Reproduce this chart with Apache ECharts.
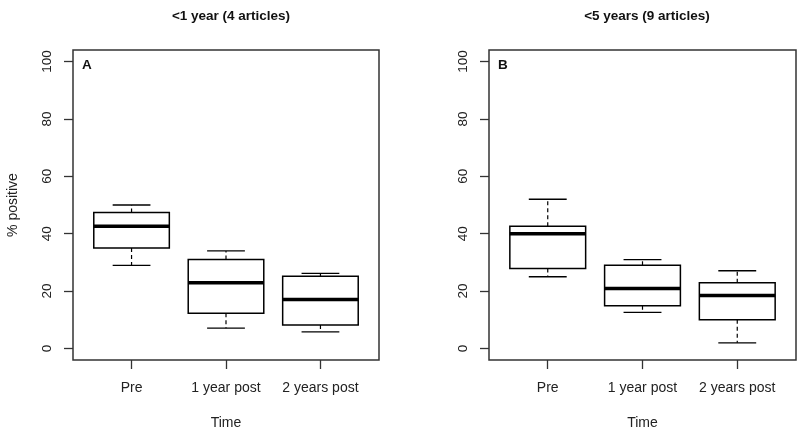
<!DOCTYPE html>
<html>
<head>
<meta charset="utf-8">
<script src="https://cdn.jsdelivr.net/npm/echarts@6/dist/echarts.min.js"></script>
<style>html,body{margin:0;padding:0;background:#fff}#c{width:800px;height:430px}</style>
</head>
<body>
<div id="c"></div>
<script>
const categories = ['Pre', '1 year post', '2 years post'];
const yTicks = [0, 20, 40, 60, 80, 100];
const titleA = '<1 year (4 articles)';
const titleB = '<5 years (9 articles)';
// Panel A (<1 year)
const aMin = [29, 7.1, 5.8];
const aQ1 = [35, 12.3, 8.2];
const aMed = [42.6, 22.9, 17.1];
const aQ3 = [47.4, 31, 25.2];
const aMax = [50, 34, 26.2];
// Panel B (<5 years)
const bMin = [25, 12.6, 2];
const bQ1 = [27.9, 14.9, 10];
const bMed = [40, 20.9, 18.5];
const bQ3 = [42.6, 29, 22.9];
const bMax = [52, 31, 27.1];

const FONT = '"Liberation Sans", Arial, sans-serif';
function rows(mn, q1, md, q3, mx) {
  return categories.map((c, i) => [i + 1, mn[i], q1[i], md[i], q3[i], mx[i]]);
}
function renderItem(params, api) {
  const x = api.value(0);
  const lo = api.coord([x, api.value(1)]);
  const q1 = api.coord([x, api.value(2)]);
  const md = api.coord([x, api.value(3)]);
  const q3 = api.coord([x, api.value(4)]);
  const hi = api.coord([x, api.value(5)]);
  const bw = api.size([0.8, 0])[0];
  const cw = api.size([0.4, 0])[0];
  const cx = lo[0];
  const solid = {stroke: '#000', lineWidth: 1.3};
  const dash = {stroke: '#000', lineWidth: 1.2, lineDash: [4, 3]};
  return {type: 'group', children: [
    {type: 'line', shape: {x1: cx, y1: q3[1], x2: cx, y2: hi[1]}, style: dash},
    {type: 'line', shape: {x1: cx, y1: q1[1], x2: cx, y2: lo[1]}, style: dash},
    {type: 'line', shape: {x1: cx - cw / 2, y1: hi[1], x2: cx + cw / 2, y2: hi[1]}, style: solid},
    {type: 'line', shape: {x1: cx - cw / 2, y1: lo[1], x2: cx + cw / 2, y2: lo[1]}, style: solid},
    {type: 'rect', shape: {x: cx - bw / 2, y: q3[1], width: bw, height: q1[1] - q3[1]},
      style: {fill: '#fff', stroke: '#000', lineWidth: 1.5}},
    {type: 'line', shape: {x1: cx - bw / 2, y1: md[1], x2: cx + bw / 2, y2: md[1]},
      style: {stroke: '#000', lineWidth: 3.5}}
  ]};
}
function xAxis(gi) {
  return {
    type: 'value', gridIndex: gi, min: 0.38, max: 3.62,
    name: 'Time', nameLocation: 'middle', nameGap: 56,
    nameTextStyle: {fontFamily: FONT, fontSize: 14, color: '#222'},
    axisLine: {show: false, onZero: false},
    axisTick: {show: true, length: 9, customValues: [1, 2, 3], lineStyle: {color: '#333', width: 1.3}},
    axisLabel: {customValues: [1, 2, 3], formatter: v => categories[Math.round(v) - 1] || '',
      fontFamily: FONT, fontSize: 14, color: '#222', margin: 21},
    splitLine: {show: false}
  };
}
function yAxis(gi, name) {
  return {
    type: 'value', gridIndex: gi, min: -4, max: 104,
    name: name, nameLocation: 'middle', nameGap: 53, nameRotate: 90,
    nameTextStyle: {fontFamily: FONT, fontSize: 14, color: '#222'},
    axisLine: {show: false, onZero: false},
    axisTick: {show: true, length: 9, customValues: yTicks, lineStyle: {color: '#333', width: 1.3}},
    axisLabel: {customValues: yTicks, rotate: 90, fontFamily: FONT, fontSize: 13.5, color: '#222', margin: 19},
    splitLine: {show: false}
  };
}
const chart = echarts.init(document.getElementById('c'), null, {renderer: 'canvas'});
chart.setOption({
  animation: false,
  backgroundColor: '#fff',
  title: [
    {text: titleA, left: 226, top: 4, textAlign: 'center',
      textStyle: {fontFamily: FONT, fontSize: 13.5, fontWeight: 'bold', color: '#111'}},
    {text: titleB, left: 642, top: 4, textAlign: 'center',
      textStyle: {fontFamily: FONT, fontSize: 13.5, fontWeight: 'bold', color: '#111'}},
    {text: 'A', left: 77, top: 53, textStyle: {fontFamily: FONT, fontSize: 13.5, fontWeight: 'bold', color: '#111'}},
    {text: 'B', left: 493, top: 53, textStyle: {fontFamily: FONT, fontSize: 13.5, fontWeight: 'bold', color: '#111'}}
  ],
  grid: [
    {left: 73, right: 421, top: 50, bottom: 70, show: true, borderColor: '#333', borderWidth: 1.5,
      backgroundColor: 'transparent', containLabel: false, outerBoundsMode: 'none'},
    {left: 489, right: 4, top: 50, bottom: 70, show: true, borderColor: '#333', borderWidth: 1.5,
      backgroundColor: 'transparent', containLabel: false, outerBoundsMode: 'none'}
  ],
  xAxis: [xAxis(0), xAxis(1)],
  yAxis: [yAxis(0, '% positive'), yAxis(1, '')],
  series: [
    {type: 'custom', xAxisIndex: 0, yAxisIndex: 0, renderItem: renderItem,
      encode: {x: 0, y: [1, 2, 3, 4, 5]}, data: rows(aMin, aQ1, aMed, aQ3, aMax)},
    {type: 'custom', xAxisIndex: 1, yAxisIndex: 1, renderItem: renderItem,
      encode: {x: 0, y: [1, 2, 3, 4, 5]}, data: rows(bMin, bQ1, bMed, bQ3, bMax)}
  ]
});
</script>
</body>
</html>
